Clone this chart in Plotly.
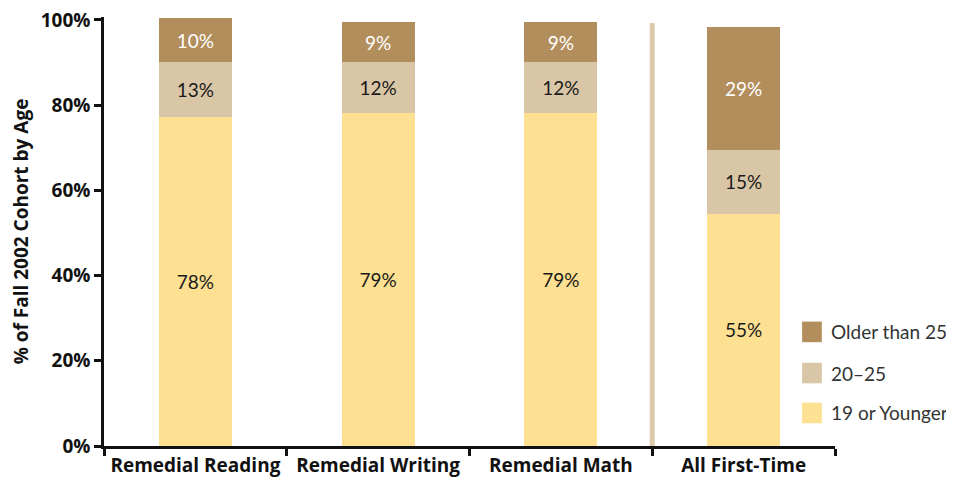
import plotly.graph_objects as go

# Data
categories = ["Remedial Reading", "Remedial Writing", "Remedial Math", "All First-Time"]
series_names = ["19 or Younger", "20–25", "Older than 25"]
young = [77.2, 78.2, 78.2, 54.5]
mid = [12.9, 11.9, 11.9, 15.0]
older = [10.4, 9.4, 9.4, 28.9]
labels_young = ["78%", "79%", "79%", "55%"]
labels_mid = ["13%", "12%", "12%", "15%"]
labels_older = ["10%", "9%", "9%", "29%"]

colors = ["#FEE092", "#D9C6A6", "#B38E5D"]
text_colors = ["#1a1a1a", "#1a1a1a", "#ffffff"]
FONT = "Lato, 'Open Sans', sans-serif"
BOLD = "'Open Sans', Lato, sans-serif"

fig = go.Figure()
for name, vals, txt, col, tcol in zip(series_names, [young, mid, older],
                                      [labels_young, labels_mid, labels_older],
                                      colors, text_colors):
    fig.add_trace(go.Bar(
        x=categories, y=vals, name=name,
        marker=dict(color=col, line=dict(width=0)),
        text=txt, textposition="inside", insidetextanchor="middle",
        textangle=0,
        textfont=dict(family=FONT, size=19, color=tcol),
        width=0.4, showlegend=False,
    ))

# divider between remedial groups and all first-time students
fig.add_shape(type="line", xref="x", yref="y", x0=2.5, x1=2.5, y0=0, y1=99.3,
              line=dict(color="#DCCAAB", width=5), layer="below")

# legend drawn by hand so the swatches match the reference size
legend_y = [0.266, 0.170, 0.077]
for name, col, ly in zip(series_names[::-1], colors[::-1], legend_y):
    fig.add_shape(type="rect", xref="paper", yref="paper",
                  x0=0.955, x1=0.982, y0=ly - 0.024, y1=ly + 0.024,
                  fillcolor=col, line=dict(width=0))
    fig.add_annotation(xref="paper", yref="paper", x=0.992, y=ly,
                       text=name, showarrow=False, xanchor="left",
                       yanchor="middle",
                       font=dict(family=FONT, size=19, color="#333333"))

# the page body adds an 8px offset, so the figure is 8px smaller each way
fig.update_layout(
    barmode="stack",
    width=946, height=471,
    margin=dict(l=96, r=119, t=9, b=33),
    plot_bgcolor="white", paper_bgcolor="white",
    font=dict(family=FONT, color="#111111"),
)
fig.update_xaxes(
    automargin=False,
    showline=True, linecolor="#111111", linewidth=2.5,
    ticks="outside", tickson="boundaries", ticklen=7, tickwidth=2.5,
    tickcolor="#111111",
    tickfont=dict(family=BOLD, size=19, color="#111111", weight="bold"),
    showgrid=False,
)
fig.update_yaxes(
    automargin=False, ticklabeloverflow="allow",
    range=[0, 100.7], tickvals=[0, 20, 40, 60, 80, 100],
    ticktext=["0%", "20%", "40%", "60%", "80%", "100%"],
    showline=True, linecolor="#111111", linewidth=2.5,
    ticks="outside", ticklen=7, tickwidth=2.5, tickcolor="#111111",
    tickfont=dict(family=BOLD, size=19, color="#111111", weight="bold"),
    showgrid=False, zeroline=False,
    title=dict(text="% of Fall 2002 Cohort by Age", standoff=16,
               font=dict(family=BOLD, size=19, color="#111111", weight="bold")),
)

fig.write_html("out.html")
